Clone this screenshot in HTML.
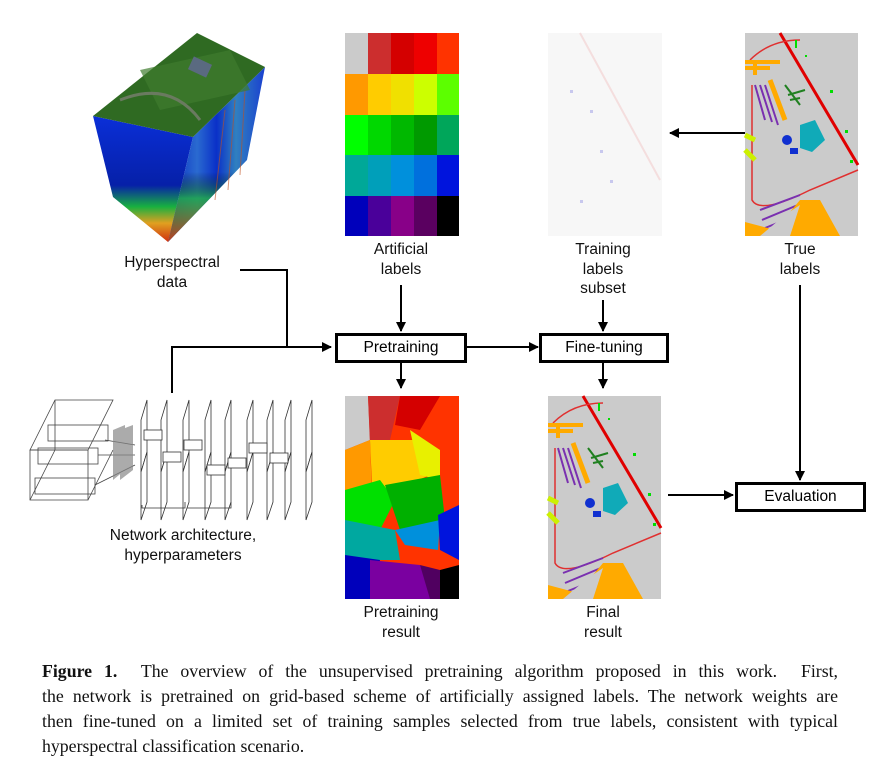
<!DOCTYPE html>
<html><head><meta charset="utf-8"><style>
body{margin:0;background:#fff;width:885px;height:762px;overflow:hidden;position:relative;font-family:"Liberation Sans",sans-serif;}
.t{position:absolute;font-size:15.5px;color:#111;text-align:center;line-height:19.5px;}
.box{position:absolute;border:3px solid #000;background:#fff;font-size:15.5px;text-align:center;box-sizing:border-box;line-height:23px;}
.cap{position:absolute;left:42px;top:659px;width:796px;font-family:"Liberation Serif",serif;font-size:17.8px;line-height:25px;color:#111;letter-spacing:0;}
.cap div{text-align:justify;text-align-last:justify;white-space:nowrap;}
.cap div.l{text-align-last:left;}
</style></head><body>
<svg width="885" height="762" style="position:absolute;left:0;top:0">
<defs>
<linearGradient id="lf" x1="0" y1="0" x2="0" y2="1">
<stop offset="0" stop-color="#0a2fd8"/><stop offset="0.55" stop-color="#0620a8"/><stop offset="0.72" stop-color="#18b040"/><stop offset="0.85" stop-color="#e0a020"/><stop offset="1" stop-color="#d03010"/></linearGradient>
<linearGradient id="rf" x1="0" y1="0" x2="1" y2="0">
<stop offset="0" stop-color="#0828c0"/><stop offset="0.3" stop-color="#2a6ad0"/><stop offset="0.5" stop-color="#0a30c8"/><stop offset="0.7" stop-color="#3080c0"/><stop offset="1" stop-color="#1a40d0"/></linearGradient>
<linearGradient id="rfb" x1="0" y1="0" x2="0" y2="1">
<stop offset="0" stop-color="#000" stop-opacity="0"/><stop offset="0.6" stop-color="#000" stop-opacity="0"/><stop offset="0.75" stop-color="#20b040" stop-opacity="0.8"/><stop offset="1" stop-color="#d04010" stop-opacity="0.9"/></linearGradient>
<marker id="ah" markerWidth="10" markerHeight="10" refX="9" refY="5" orient="auto" markerUnits="userSpaceOnUse"><path d="M0,0 L10,5 L0,10 z" fill="#000"/></marker>
</defs>
<!-- cube -->
<polygon points="93,116 193,137 168,242 113,197" fill="url(#lf)"/>
<polygon points="193,137 265,67 247,160 168,242" fill="url(#rf)"/>
<polygon points="193,137 265,67 247,160 168,242" fill="url(#rfb)"/>
<g stroke="#c05020" stroke-width="1" opacity="0.6"><path d="M225,110 L215,200 M235,100 L228,190 M245,90 L240,175"/></g>
<polygon points="197,33 265,67 193,137 93,116" fill="#2f6a22"/>
<polygon points="140,70 230,50 250,90 160,110" fill="#3e7c2e" opacity="0.7"/>
<rect x="190" y="60" width="20" height="14" fill="#5a6a80" transform="rotate(25 200 67)"/>
<path d="M120,100 Q170,80 200,120" stroke="#6a7a60" stroke-width="3" fill="none"/>
<!-- artificial labels grid -->
<g>
<rect x="345" y="33" width="23" height="41" fill="#cbcbcb"/><rect x="368" y="33" width="23" height="41" fill="#cc2e2e"/><rect x="391" y="33" width="23" height="41" fill="#d40000"/><rect x="414" y="33" width="23" height="41" fill="#ee0000"/><rect x="437" y="33" width="22" height="41" fill="#ff3300"/>
<rect x="345" y="74" width="23" height="41" fill="#ff9900"/><rect x="368" y="74" width="23" height="41" fill="#ffcc00"/><rect x="391" y="74" width="23" height="41" fill="#f0e000"/><rect x="414" y="74" width="23" height="41" fill="#ccff00"/><rect x="437" y="74" width="22" height="41" fill="#5cff00"/>
<rect x="345" y="115" width="23" height="40" fill="#00ff00"/><rect x="368" y="115" width="23" height="40" fill="#00d800"/><rect x="391" y="115" width="23" height="40" fill="#00b800"/><rect x="414" y="115" width="23" height="40" fill="#009a00"/><rect x="437" y="115" width="22" height="40" fill="#00a65a"/>
<rect x="345" y="155" width="23" height="41" fill="#00a898"/><rect x="368" y="155" width="23" height="41" fill="#009fba"/><rect x="391" y="155" width="23" height="41" fill="#0090dc"/><rect x="414" y="155" width="23" height="41" fill="#0070dd"/><rect x="437" y="155" width="22" height="41" fill="#0014dd"/>
<rect x="345" y="196" width="23" height="40" fill="#0000bb"/><rect x="368" y="196" width="23" height="40" fill="#4a009a"/><rect x="391" y="196" width="23" height="40" fill="#880088"/><rect x="414" y="196" width="23" height="40" fill="#5a0060"/><rect x="437" y="196" width="22" height="40" fill="#000"/>
</g>
<!-- training subset -->
<rect x="548" y="33" width="114" height="203" fill="#f7f7f7"/>
<path d="M580,33 L660,180" stroke="#f4dede" stroke-width="2"/>
<g fill="#c8c8ee"><rect x="570" y="90" width="3" height="3"/><rect x="590" y="110" width="3" height="3"/><rect x="600" y="150" width="3" height="3"/><rect x="580" y="200" width="3" height="3"/><rect x="610" y="180" width="3" height="3"/></g>
<!-- true labels & final result maps -->
<g id="map">
<rect x="745" y="33" width="113" height="203" fill="#cbcbcb"/>
<path d="M780,33 L858,165" stroke="#e00000" stroke-width="3"/>
<path d="M750,60 Q770,40 800,40" stroke="#e03030" stroke-width="1.5" fill="none"/>
<path d="M752,85 L752,200 Q760,215 810,190 L858,170" stroke="#e03030" stroke-width="1.5" fill="none"/>
<path d="M745,62 L780,62 M755,62 L755,75 M745,68 L770,68" stroke="#ffaa00" stroke-width="4"/>
<path d="M770,80 L785,120" stroke="#ffaa00" stroke-width="5"/>
<g stroke="#7a30b0" stroke-width="2"><path d="M755,85 L765,120 M760,85 L772,122 M765,85 L778,125"/><path d="M760,210 L800,195 M762,220 L805,202 M765,228 L810,210"/></g>
<polygon points="800,125 815,120 825,140 812,152 800,148" fill="#10aab8"/>
<circle cx="787" cy="140" r="5" fill="#1030d0"/><rect x="790" y="148" width="8" height="6" fill="#1030d0"/>
<path d="M785,85 L800,105 M788,95 L805,90 M790,100 L800,98" stroke="#208020" stroke-width="2"/>
<path d="M745,135 L755,140 M745,150 L755,160" stroke="#ccf000" stroke-width="5"/>
<polygon points="745,236 745,222 775,230 800,200 820,200 840,236" fill="#ffaa00"/>
<polygon points="760,236 790,236 800,205 785,215" fill="#cbcbcb"/>
<g fill="#00dd00"><rect x="795" y="40" width="2" height="8"/><rect x="830" y="90" width="3" height="3"/><rect x="845" y="130" width="3" height="3"/><rect x="850" y="160" width="3" height="3"/><rect x="805" y="55" width="2" height="2"/></g>
</g>
<use href="#map" transform="translate(-197,363)"/>
<!-- pretraining result -->
<g>
<rect x="345" y="396" width="114" height="203" fill="#ff3300"/>
<polygon points="345,396 368,396 370,440 345,450" fill="#cbcbcb"/>
<polygon points="368,396 400,396 390,440 370,445" fill="#cc2e2e"/>
<polygon points="400,396 440,396 420,430 395,425" fill="#d40000"/>
<polygon points="345,450 370,440 372,500 345,500" fill="#ff9900"/>
<polygon points="370,440 420,440 430,475 395,490 372,485" fill="#ffcc00"/>
<polygon points="410,430 440,450 440,480 420,475" fill="#e8f000"/>
<polygon points="345,490 380,480 395,500 380,530 345,520" fill="#00e000"/>
<polygon points="385,485 440,475 445,520 400,530" fill="#00b000"/>
<polygon points="395,530 440,520 438,550 405,545" fill="#0090dc"/>
<polygon points="345,520 395,530 400,560 345,560" fill="#00a8a0"/>
<polygon points="438,515 459,505 459,560 440,550" fill="#0014dd"/>
<polygon points="345,555 380,560 370,599 345,599" fill="#0000bb"/>
<polygon points="370,560 420,565 435,599 370,599" fill="#7a00a0"/>
<polygon points="420,565 440,570 440,599 430,599" fill="#500060"/>
<polygon points="440,570 459,565 459,599 440,599" fill="#000"/>
</g>
<!-- network architecture -->
<g stroke="#444" stroke-width="0.8" fill="none">
<polygon points="30,450 55,400 113,400 88,450"/><polygon points="30,450 88,450 88,500 30,500"/>
<path d="M30,500 L55,450 M88,500 L113,450 M55,400 L55,450"/>
<rect x="48" y="425" width="60" height="16"/><rect x="38" y="448" width="60" height="16"/><rect x="35" y="478" width="60" height="16"/>
<path d="M105,440 L135,445 M98,455 L135,455 M95,485 L135,465"/>
</g>
<g fill="#888" opacity="0.7"><polygon points="113,430 125,425 125,470 113,480"/><polygon points="120,430 133,425 133,470 120,480"/></g>
<g stroke="#333" stroke-width="0.8" fill="#fff">
<g id="sl"><polygon points="141,420 147,400 147,452 141,472"/><polygon points="141,472 147,452 147,502 141,520"/></g>
<use href="#sl" x="20"/><use href="#sl" x="42"/><use href="#sl" x="64"/><use href="#sl" x="84"/><use href="#sl" x="106"/><use href="#sl" x="126"/><use href="#sl" x="144"/><use href="#sl" x="165"/>
<rect x="144" y="430" width="18" height="10"/><rect x="163" y="452" width="18" height="10"/><rect x="184" y="440" width="18" height="10"/><rect x="207" y="465" width="18" height="10"/><rect x="228" y="458" width="18" height="10"/><rect x="249" y="443" width="18" height="10"/><rect x="270" y="453" width="18" height="10"/>
<path d="M142,505 L142,508 L185,508 L185,502 M187,508 L231,508 L231,502" fill="none"/>
</g>
<!-- connectors -->
<g stroke="#000" stroke-width="2" fill="none">
<path d="M240,270 L287,270 L287,347 L331,347" marker-end="url(#ah)"/>
<path d="M172,393 L172,347 L287,347"/>
<path d="M401,285 L401,331" marker-end="url(#ah)"/>
<path d="M466,347 L538,347" marker-end="url(#ah)"/>
<path d="M603,300 L603,331" marker-end="url(#ah)"/>
<path d="M401,362 L401,388" marker-end="url(#ah)"/>
<path d="M603,362 L603,388" marker-end="url(#ah)"/>
<path d="M745,133 L670,133" marker-end="url(#ah)"/>
<path d="M668,495 L733,495" marker-end="url(#ah)"/>
<path d="M800,285 L800,480" marker-end="url(#ah)"/>
</g>
</svg>
<div class="t" style="left:100px;top:253px;width:144px">Hyperspectral<br>data</div>
<div class="t" style="left:341px;top:240px;width:120px">Artificial<br>labels</div>
<div class="t" style="left:543px;top:240px;width:120px">Training<br>labels<br>subset</div>
<div class="t" style="left:740px;top:240px;width:120px">True<br>labels</div>
<div class="t" style="left:80px;top:526px;width:206px">Network architecture,<br>hyperparameters</div>
<div class="t" style="left:341px;top:603px;width:120px">Pretraining<br>result</div>
<div class="t" style="left:543px;top:603px;width:120px">Final<br>result</div>
<div class="box" style="left:335px;top:333px;width:132px;height:30px">Pretraining</div>
<div class="box" style="left:539px;top:333px;width:130px;height:30px">Fine-tuning</div>
<div class="box" style="left:735px;top:482px;width:131px;height:30px">Evaluation</div>
<div class="cap">
<div><b>Figure 1.</b>&nbsp; The overview of the unsupervised pretraining algorithm proposed in this work.&nbsp; First,</div>
<div>the network is pretrained on grid-based scheme of artificially assigned labels. The network weights are</div>
<div>then fine-tuned on a limited set of training samples selected from true labels, consistent with typical</div>
<div class="l">hyperspectral classification scenario.</div>
</div>
</body></html>
